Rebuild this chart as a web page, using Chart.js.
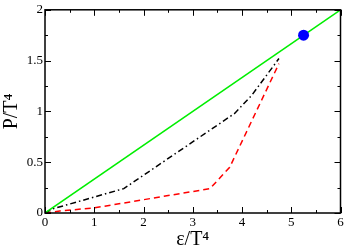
<!DOCTYPE html>
<html>
<head>
<meta charset="utf-8">
<script src="https://cdn.jsdelivr.net/npm/chart.js@4/dist/chart.umd.min.js"></script>
<style>
  html, body { margin: 0; padding: 0; background: #fff; }
  #wrap { width: 346px; height: 252px; }
</style>
</head>
<body>
<div id="wrap"><canvas id="c"></canvas></div>
<script>
// ideal gas line P = e/3
const idealX = [0, 6];
const idealY = [0, 2];

// dash-dot curve (black)
const blackX = [0, 0.15, 1.6, 3.85, 4.2, 4.75];
const blackY = [0, 0.04, 0.24, 0.98, 1.16, 1.52];

// dashed curve (red)
const redX = [0, 0.3, 1.0, 3.35, 3.75, 4.75];
const redY = [0, 0.02, 0.05, 0.24, 0.45, 1.47];

// single point
const dotX = [5.25];
const dotY = [1.75];

const xTicks = [0, 1, 2, 3, 4, 5, 6];
const yTicks = [0, 0.5, 1, 1.5, 2];

function pts(xs, ys) {
    return xs.map((x, i) => ({ x: x, y: ys[i] }));
}

const serif = "'Liberation Serif', 'DejaVu Serif', serif";

// frame + inward ticks on all four sides
const frameTicks = {
    id: 'frameTicks',
    afterDraw(chart) {
        const ctx = chart.ctx;
        const a = chart.chartArea;
        const xs = chart.scales.x;
        const ys = chart.scales.y;
        ctx.save();
        ctx.strokeStyle = '#000';
        ctx.lineWidth = 1;
        for (let v = 0; v <= 6.001; v += 0.5) {
            const px = Math.round(xs.getPixelForValue(v)) + 0.5;
            const len = Math.abs(v - Math.round(v)) < 0.01 ? 6 : 3;
            ctx.beginPath();
            ctx.moveTo(px, a.bottom); ctx.lineTo(px, a.bottom - len);
            ctx.moveTo(px, a.top); ctx.lineTo(px, a.top + len);
            ctx.stroke();
        }
        for (let v = 0; v <= 2.001; v += 0.25) {
            const py = Math.round(ys.getPixelForValue(v)) + 0.5;
            const len = Math.abs(v * 2 - Math.round(v * 2)) < 0.01 ? 6 : 3;
            ctx.beginPath();
            ctx.moveTo(a.left, py); ctx.lineTo(a.left + len, py);
            ctx.moveTo(a.right, py); ctx.lineTo(a.right - len, py);
            ctx.stroke();
        }
        ctx.lineWidth = 1.5;
        ctx.strokeRect(a.left, a.top, a.right - a.left, a.bottom - a.top);
        ctx.restore();
    }
};

new Chart(document.getElementById('c'), {
    type: 'scatter',
    data: {
        datasets: [
            {
                data: pts(idealX, idealY),
                showLine: true,
                borderColor: '#00ee00',
                borderWidth: 1.5,
                pointRadius: 0
            },
            {
                data: pts(blackX, blackY),
                showLine: true,
                borderColor: '#000000',
                borderWidth: 1.5,
                borderDash: [6, 3, 1.5, 3],
                pointRadius: 0
            },
            {
                data: pts(redX, redY),
                showLine: true,
                borderColor: '#ff0000',
                borderWidth: 1.5,
                borderDash: [6, 4],
                pointRadius: 0
            },
            {
                data: pts(dotX, dotY),
                showLine: false,
                backgroundColor: '#0000ff',
                borderWidth: 0,
                pointRadius: 5.5,
                order: -1
            }
        ]
    },
    options: {
        responsive: true,
        maintainAspectRatio: false,
        animation: false,
        layout: { padding: { top: 5, right: 4, left: 0, bottom: 0 } },
        plugins: {
            legend: { display: false },
            tooltip: { enabled: false }
        },
        scales: {
            x: {
                type: 'linear',
                min: 0,
                max: 6,
                afterBuildTicks: s => { s.ticks = xTicks.map(v => ({ value: v })); },
                afterFit: s => { s.height = 39; },
                grid: { display: false, drawTicks: false },
                border: { display: false },
                ticks: {
                    padding: 2,
                    color: '#000',
                    font: { size: 13, family: serif },
                    callback: v => String(v)
                },
                title: {
                    display: true,
                    text: 'ε/T⁴',
                    color: '#000',
                    padding: { top: 0, bottom: 0 },
                    font: { size: 20, family: serif }
                }
            },
            y: {
                type: 'linear',
                min: 0,
                max: 2,
                afterBuildTicks: s => { s.ticks = yTicks.map(v => ({ value: v })); },
                afterFit: s => { s.width = 45; },
                grid: { display: false, drawTicks: false },
                border: { display: false },
                ticks: {
                    padding: 2,
                    color: '#000',
                    font: { size: 13, family: serif },
                    callback: v => String(v)
                },
                title: {
                    display: true,
                    text: 'P/T⁴',
                    color: '#000',
                    padding: { top: 0, bottom: 0 },
                    font: { size: 20, family: serif }
                }
            }
        }
    },
    plugins: [frameTicks]
});
</script>
</body>
</html>
